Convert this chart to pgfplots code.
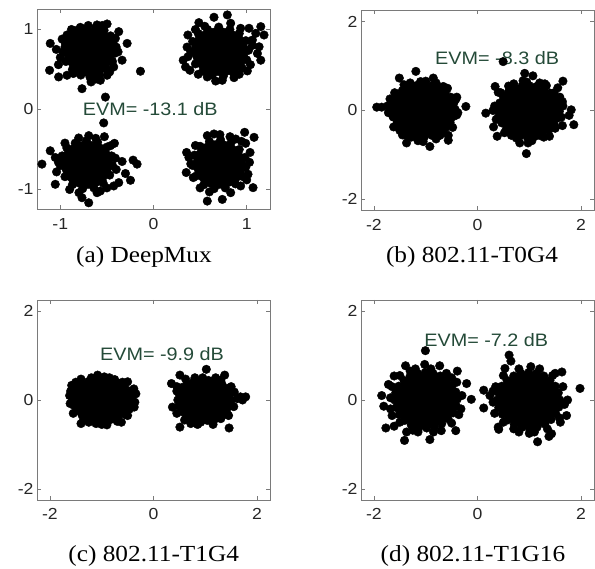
\documentclass[border=0pt]{standalone}
\usepackage{fontspec}
\setmainfont{Liberation Serif}[FakeStretch=1.1]
\newfontfamily\arialf{Liberation Sans}[FakeStretch=1.1]
\usepackage{pgfplots}
\pgfplotsset{compat=1.18}
\definecolor{evm}{HTML}{244A38}
\definecolor{axgray}{HTML}{7A7A7A}
\definecolor{tickc}{HTML}{262626}
\newcommand{\tickf}{\arialf\fontsize{16}{16}\selectfont}
\newcommand{\evmf}{\arialf\fontsize{18}{18}\selectfont}
\newcommand{\capf}{\fontsize{23}{23}\selectfont}
\pgfplotsset{
  cstyle/.style={
    scale only axis, width=233pt, height=200pt,
    axis line style={draw=axgray, line width=0.8pt},
    tick style={color=axgray, line width=0.7pt},
    tick align=inside, major tick length=4pt,
    xtick pos=both, ytick pos=both,
    xticklabel pos=lower, yticklabel pos=left,
    ticklabel style={font=\tickf, text=tickc},
    xticklabel style={yshift=-5pt},
    clip=false,
  },
  dots/.style={only marks, mark=*, mark size=4.3pt, draw=black, fill=black, mark options={draw=black, fill=black}},
  core/.style={fill=black, draw=black, line width=0.5pt, mark=none},
}
\begin{document}
\begin{tikzpicture}[x=1pt,y=1pt]
\useasboundingbox (0,0) rectangle (595,569);
% ---------------- (a) ----------------
\begin{axis}[cstyle, at={(37pt,359.5pt)}, anchor=south west,
  xmin=-1.25, xmax=1.25, ymin=-1.25, ymax=1.25,
  xtick={-1,0,1}, xticklabels={-1,0,1}, ytick={-1,0,1}, yticklabels={-1,0,1}]
\addplot[core] coordinates {(-0.97,0.72) (-0.95,0.84) (-0.9,0.93) (-0.82,0.99) (-0.72,1.01) (-0.62,1.02) (-0.53,0.99) (-0.46,0.92) (-0.43,0.82) (-0.42,0.7) (-0.44,0.6) (-0.5,0.5) (-0.58,0.43) (-0.68,0.40) (-0.78,0.43) (-0.87,0.5) (-0.94,0.6)} -- cycle;
\addplot[core] coordinates {(0.40,0.72) (0.42,0.85) (0.48,0.95) (0.58,1.0) (0.7,1.03) (0.82,1.0) (0.92,0.95) (0.99,0.86) (1.02,0.74) (1.0,0.62) (0.95,0.52) (0.86,0.45) (0.75,0.42) (0.63,0.43) (0.53,0.48) (0.45,0.57)} -- cycle;
\addplot[core] coordinates {(-1.0,-0.7) (-0.98,-0.58) (-0.93,-0.48) (-0.84,-0.42) (-0.72,-0.39) (-0.6,-0.41) (-0.5,-0.47) (-0.45,-0.58) (-0.44,-0.7) (-0.47,-0.82) (-0.54,-0.92) (-0.64,-0.98) (-0.76,-0.99) (-0.87,-0.94) (-0.95,-0.84)} -- cycle;
\addplot[core] coordinates {(0.42,-0.7) (0.44,-0.57) (0.5,-0.46) (0.6,-0.40) (0.72,-0.38) (0.83,-0.42) (0.92,-0.5) (0.98,-0.6) (0.99,-0.72) (0.96,-0.84) (0.88,-0.93) (0.77,-0.98) (0.65,-0.99) (0.54,-0.94) (0.46,-0.83)} -- cycle;
\addplot[dots] coordinates {
(-0.97,0.72) (-0.95,0.84) (-0.9,0.93) (-0.82,0.99) (-0.72,1.01) (-0.62,1.02) (-0.53,0.99) (-0.46,0.92) (-0.43,0.82) (-0.42,0.7) (-0.44,0.6) (-0.5,0.5) (-0.58,0.43) (-0.68,0.40) (-0.78,0.43) (-0.87,0.5) (-0.94,0.6)
(-1.108,0.826) (-1.043,0.751) (-1.115,0.49) (-1.018,0.407) (-0.928,0.428) (-0.767,0.26) (-0.67,0.344) (-0.57,0.365) (-0.498,0.428) (-0.14,0.478) (-0.283,0.826) (-0.373,0.973) (-0.498,1.069) (-0.409,0.889) (-0.337,0.616) (-0.427,0.532) (-0.516,0.155) (-0.785,1.027) (-0.606,1.057) (-0.928,0.931) (-1.0,0.65) (-0.98,0.88) (-0.38,0.72) (-0.86,0.45) (-0.55,1.05) (-0.7,1.05)
(-1.02,0.56) (-0.88,1.0) (-0.4,0.78) (-0.47,0.47) (-0.62,0.38) (-0.95,0.78)
(0.40,0.72) (0.42,0.85) (0.48,0.95) (0.58,1.0) (0.7,1.03) (0.82,1.0) (0.92,0.95) (0.99,0.86) (1.02,0.74) (1.0,0.62) (0.95,0.52) (0.86,0.45) (0.75,0.42) (0.63,0.43) (0.53,0.48) (0.45,0.57)
(0.487,1.086) (0.649,1.153) (0.792,1.182) (0.828,1.078) (0.935,1.015) (1.025,1.015) (1.151,1.036) (1.186,0.931) (1.097,0.952) (1.061,0.868) (1.133,0.784) (1.151,0.616) (1.115,0.70) (0.319,0.616) (0.344,0.532) (0.391,0.49) (0.577,0.407) (0.667,0.356) (0.738,0.365) (0.864,0.398) (1.007,0.482) (0.369,0.931) (0.36,0.78) (0.55,1.04) (1.04,0.56)
(0.37,0.66) (0.45,1.0) (1.06,0.8) (0.92,0.44) (0.48,0.44)
(-1.0,-0.7) (-0.98,-0.58) (-0.93,-0.48) (-0.84,-0.42) (-0.72,-0.39) (-0.6,-0.41) (-0.5,-0.47) (-0.45,-0.58) (-0.44,-0.7) (-0.47,-0.82) (-0.54,-0.92) (-0.64,-0.98) (-0.76,-0.99) (-0.87,-0.94) (-0.95,-0.84)
(-1.197,-0.683) (-1.108,-0.516) (-1.054,-0.60) (-1.054,-0.935) (-0.767,-1.103) (-0.695,-1.166) (-0.606,-1.04) (-0.57,-1.019) (-0.427,-0.956) (-0.373,-0.914) (-0.301,-0.80) (-0.247,-0.885) (-0.409,-0.608) (-0.337,-0.65) (-0.219,-0.633) (-0.176,-0.683) (-0.462,-0.453) (-0.419,-0.423) (-0.527,-0.34) (-0.803,-0.356) (-0.695,-0.327) (-0.534,-0.168) (-1.04,-0.78) (-0.9,-1.0) (-0.4,-0.75) (-0.95,-0.42)
(-1.02,-0.66) (-0.8,-1.04) (-0.5,-0.98) (-0.62,-0.36)
(0.42,-0.7) (0.44,-0.57) (0.5,-0.46) (0.6,-0.40) (0.72,-0.38) (0.83,-0.42) (0.92,-0.5) (0.98,-0.6) (0.99,-0.72) (0.96,-0.84) (0.88,-0.93) (0.77,-0.98) (0.65,-0.99) (0.54,-0.94) (0.46,-0.83)
(0.577,-0.327) (0.649,-0.306) (0.713,-0.314) (0.821,-0.34) (0.882,-0.369) (0.943,-0.398) (0.989,-0.423) (0.978,-0.285) (1.079,-0.348) (1.036,-0.537) (1.014,-0.809) (1.068,-0.977) (0.355,-0.537) (0.38,-0.60) (0.351,-0.788) (0.427,-0.851) (0.577,-1.145) (0.738,-1.124) (0.828,-1.04) (0.935,-0.956) (1.03,-0.66) (0.4,-0.68) (0.6,-1.03)
(0.5,-0.98) (1.0,-0.88) (0.45,-0.45)
};
\node[anchor=west, inner sep=0pt, text=evm, font=\evmf] at (axis cs:-0.76,0) {EVM= -13.1 dB};
\end{axis}
% ---------------- (b) ----------------
\begin{axis}[cstyle, at={(361pt,358.5pt)}, anchor=south west,
  xmin=-2.25, xmax=2.25, ymin=-2.25, ymax=2.25,
  xtick={-2,0,2}, xticklabels={-2,0,2}, ytick={-2,0,2}, yticklabels={-2,0,2}]
\addplot[core] coordinates {(-1.67,0.05) (-1.64,0.2) (-1.56,0.34) (-1.45,0.45) (-1.32,0.52) (-1.18,0.56) (-1.03,0.58) (-0.88,0.56) (-0.74,0.5) (-0.62,0.42) (-0.52,0.3) (-0.46,0.16) (-0.43,0.02) (-0.46,-0.13) (-0.53,-0.27) (-0.62,-0.39) (-0.74,-0.49) (-0.88,-0.56) (-1.03,-0.6) (-1.18,-0.58) (-1.32,-0.52) (-1.45,-0.43) (-1.56,-0.31) (-1.63,-0.14)} -- cycle;
\addplot[core] coordinates {(0.40,0.02) (0.43,0.17) (0.5,0.31) (0.6,0.42) (0.72,0.5) (0.86,0.55) (1.0,0.56) (1.14,0.54) (1.28,0.48) (1.4,0.39) (1.5,0.27) (1.56,0.13) (1.58,-0.02) (1.55,-0.17) (1.48,-0.31) (1.38,-0.43) (1.25,-0.52) (1.11,-0.58) (0.96,-0.6) (0.82,-0.57) (0.68,-0.5) (0.56,-0.41) (0.47,-0.28) (0.41,-0.13)} -- cycle;
\addplot[dots] coordinates {
(-1.67,0.05) (-1.64,0.2) (-1.56,0.34) (-1.45,0.45) (-1.32,0.52) (-1.18,0.56) (-1.03,0.58) (-0.88,0.56) (-0.74,0.5) (-0.62,0.42) (-0.52,0.3) (-0.46,0.16) (-0.43,0.02) (-0.46,-0.13) (-0.53,-0.27) (-0.62,-0.39) (-0.74,-0.49) (-0.88,-0.56) (-1.03,-0.6) (-1.18,-0.58) (-1.32,-0.52) (-1.45,-0.43) (-1.56,-0.31) (-1.63,-0.14)
(-1.946,0.075) (-1.85,0.075) (-1.69,0.26) (-1.51,0.73) (-1.19,0.88) (-0.854,0.73) (-0.66,0.54) (-1.62,-0.15) (-1.62,-0.37) (-1.38,-0.56) (-1.37,-0.73) (-0.92,-0.81) (-0.726,-0.56) (-0.565,-0.56) (-0.565,-0.67) (-0.225,0.09) (-0.40,0.30) (-0.469,0.075) (-0.53,-0.22) (-1.74,0.1) (-1.3,0.62) (-1.0,0.66) (-0.8,-0.64) (-1.15,-0.68) (-1.5,-0.45) (-0.4,-0.1)
(-1.72,-0.05) (-1.6,0.4) (-1.42,0.58) (-1.1,0.65) (-0.8,0.62) (-0.58,0.5) (-0.42,0.25) (-0.38,-0.05) (-0.48,-0.38) (-0.66,-0.5) (-1.05,-0.7) (-1.28,-0.6) (-1.55,-0.22) (-1.45,-0.55)
(0.40,0.02) (0.43,0.17) (0.5,0.31) (0.6,0.42) (0.72,0.5) (0.86,0.55) (1.0,0.56) (1.14,0.54) (1.28,0.48) (1.4,0.39) (1.5,0.27) (1.56,0.13) (1.58,-0.02) (1.55,-0.17) (1.48,-0.31) (1.38,-0.43) (1.25,-0.52) (1.11,-0.58) (0.96,-0.6) (0.82,-0.57) (0.68,-0.5) (0.56,-0.41) (0.47,-0.28) (0.41,-0.13)
(0.16,-0.06) (0.30,0.0) (0.34,0.54) (0.40,0.41) (0.38,-0.58) (0.31,-0.37) (0.495,1.10) (0.912,0.836) (1.07,0.78) (0.88,0.67) (1.33,0.56) (1.65,0.66) (1.55,0.51) (1.59,0.30) (1.81,0.015) (1.77,-0.11) (1.86,-0.32) (1.64,-0.34) (1.39,-0.58) (0.944,-0.97) (1.2,-0.56) (0.655,-0.56) (0.816,-0.73) (0.976,-0.73) (1.65,0.1) (0.6,0.55) (1.2,0.62)
(0.33,0.1) (0.45,0.4) (0.7,0.6) (0.95,0.64) (1.3,0.6) (1.48,0.4) (1.64,0.2) (1.62,-0.15) (1.5,-0.4) (1.28,-0.6) (1.05,-0.68) (0.75,-0.62) (0.52,-0.5) (0.36,-0.2)
};
\node[anchor=west, inner sep=0pt, text=evm, font=\evmf] at (axis cs:-0.82,1.19) {EVM= -8.3 dB};
\end{axis}
% ---------------- (c) ----------------
\begin{axis}[cstyle, at={(37pt,69pt)}, anchor=south west,
  xmin=-2.25, xmax=2.25, ymin=-2.25, ymax=2.25,
  xtick={-2,0,2}, xticklabels={-2,0,2}, ytick={-2,0,2}, yticklabels={-2,0,2}]
\addplot[core] coordinates {(-1.56,0.02) (-1.54,0.16) (-1.48,0.28) (-1.38,0.37) (-1.25,0.42) (-1.11,0.44) (-0.97,0.44) (-0.83,0.42) (-0.69,0.38) (-0.56,0.3) (-0.46,0.2) (-0.41,0.07) (-0.42,-0.08) (-0.47,-0.21) (-0.56,-0.32) (-0.69,-0.4) (-0.83,-0.44) (-0.97,-0.45) (-1.11,-0.44) (-1.25,-0.41) (-1.38,-0.34) (-1.48,-0.24) (-1.54,-0.12)} -- cycle;
\addplot[core] coordinates {(0.47,0.0) (0.49,0.15) (0.55,0.28) (0.65,0.37) (0.78,0.42) (0.92,0.44) (1.06,0.44) (1.2,0.42) (1.32,0.36) (1.42,0.26) (1.47,0.13) (1.5,0.0) (1.47,-0.14) (1.41,-0.27) (1.31,-0.37) (1.18,-0.43) (1.04,-0.46) (0.9,-0.46) (0.76,-0.43) (0.64,-0.36) (0.55,-0.26) (0.49,-0.13)} -- cycle;
\addplot[dots] coordinates {
(-1.56,0.02) (-1.54,0.16) (-1.48,0.28) (-1.38,0.37) (-1.25,0.42) (-1.11,0.44) (-0.97,0.44) (-0.83,0.42) (-0.69,0.38) (-0.56,0.3) (-0.46,0.2) (-0.41,0.07) (-0.42,-0.08) (-0.47,-0.21) (-0.56,-0.32) (-0.69,-0.4) (-0.83,-0.44) (-0.97,-0.45) (-1.11,-0.44) (-1.25,-0.41) (-1.38,-0.34) (-1.48,-0.24) (-1.54,-0.12)
(-1.40,-0.53) (-1.11,-0.53) (-0.90,-0.56) (-0.373,-0.16) (-0.34,0.14) (-1.08,0.56) (-0.95,0.52) (-1.4,0.47) (-1.58,0.33) (-1.61,-0.08) (-0.5,0.41) (-1.25,-0.5) (-0.7,-0.48) (-0.75,0.46) (-1.6,0.2)
(-1.62,0.1) (-1.5,0.4) (-1.2,0.5) (-0.85,0.5) (-0.6,0.4) (-0.38,0.25) (-0.36,-0.05) (-0.5,-0.35) (-0.62,-0.5) (-1.0,-0.55) (-1.35,-0.45) (-1.55,-0.3)
(0.47,0.0) (0.49,0.15) (0.55,0.28) (0.65,0.37) (0.78,0.42) (0.92,0.44) (1.06,0.44) (1.2,0.42) (1.32,0.36) (1.42,0.26) (1.47,0.13) (1.5,0.0) (1.47,-0.14) (1.41,-0.27) (1.31,-0.37) (1.18,-0.43) (1.04,-0.46) (0.9,-0.46) (0.76,-0.43) (0.64,-0.36) (0.55,-0.26) (0.49,-0.13)
(0.347,0.37) (0.51,0.56) (0.366,-0.16) (0.51,-0.61) (1.02,0.69) (1.375,0.56) (1.46,-0.63) (1.3,-0.42) (1.68,0.07) (1.78,0.07) (1.56,0.18) (1.62,0.03) (0.91,-0.5) (0.72,-0.53) (0.8,0.5) (1.2,0.5) (0.45,0.2)
(0.45,0.3) (0.62,0.47) (0.95,0.5) (1.3,0.45) (1.5,0.3) (1.55,-0.15) (1.45,-0.35) (1.15,-0.55) (0.85,-0.55) (0.6,-0.45) (0.45,-0.3) (1.72,0.0)
};
\node[anchor=west, inner sep=0pt, text=evm, font=\evmf] at (axis cs:-1.035,1.04) {EVM= -9.9 dB};
\end{axis}
% ---------------- (d) ----------------
\begin{axis}[cstyle, at={(361pt,69pt)}, anchor=south west,
  xmin=-2.25, xmax=2.25, ymin=-2.25, ymax=2.25,
  xtick={-2,0,2}, xticklabels={-2,0,2}, ytick={-2,0,2}, yticklabels={-2,0,2}]
\addplot[core] coordinates {(-1.6,0.0) (-1.58,0.16) (-1.52,0.31) (-1.42,0.44) (-1.3,0.54) (-1.16,0.6) (-1.01,0.62) (-0.86,0.6) (-0.72,0.54) (-0.6,0.45) (-0.49,0.33) (-0.42,0.18) (-0.39,0.02) (-0.41,-0.14) (-0.47,-0.29) (-0.57,-0.42) (-0.69,-0.53) (-0.83,-0.6) (-0.98,-0.63) (-1.13,-0.62) (-1.28,-0.56) (-1.41,-0.46) (-1.51,-0.33) (-1.57,-0.17)} -- cycle;
\addplot[core] coordinates {(0.38,0.0) (0.41,0.16) (0.47,0.31) (0.57,0.44) (0.7,0.54) (0.84,0.6) (0.99,0.62) (1.14,0.6) (1.28,0.54) (1.4,0.44) (1.5,0.31) (1.56,0.16) (1.59,0.0) (1.57,-0.16) (1.51,-0.31) (1.42,-0.44) (1.3,-0.54) (1.15,-0.61) (1.0,-0.64) (0.85,-0.62) (0.71,-0.55) (0.58,-0.45) (0.48,-0.32) (0.41,-0.17)} -- cycle;
\addplot[dots] coordinates {
(-1.6,0.0) (-1.58,0.16) (-1.52,0.31) (-1.42,0.44) (-1.3,0.54) (-1.16,0.6) (-1.01,0.62) (-0.86,0.6) (-0.72,0.54) (-0.6,0.45) (-0.49,0.33) (-0.42,0.18) (-0.39,0.02) (-0.41,-0.14) (-0.47,-0.29) (-0.57,-0.42) (-0.69,-0.53) (-0.83,-0.6) (-0.98,-0.63) (-1.13,-0.62) (-1.28,-0.56) (-1.41,-0.46) (-1.51,-0.33) (-1.57,-0.17)
(-1.85,0.1) (-1.81,-0.14) (-1.77,-0.63) (-1.61,-0.59) (-1.61,0.54) (-1.72,0.35) (-1.41,-0.91) (-1.37,-0.72) (-1.006,1.11) (-1.39,0.77) (-0.73,0.77) (-0.39,0.65) (-0.21,0.37) (-0.12,0.015) (-0.36,-0.33) (-0.42,-0.69) (-0.92,-0.89) (-0.70,-0.69) (-1.02,0.8) (-1.2,0.7) (-0.5,0.5) (-1.68,-0.2) (-1.15,-0.72)
(-1.68,0.05) (-1.65,0.3) (-1.5,0.55) (-1.3,0.65) (-0.9,0.7) (-0.6,0.6) (-0.4,0.4) (-0.3,0.1) (-0.32,-0.2) (-0.5,-0.52) (-0.85,-0.72) (-1.25,-0.68) (-1.5,-0.5) (-1.65,-0.35)
(0.38,0.0) (0.41,0.16) (0.47,0.31) (0.57,0.44) (0.7,0.54) (0.84,0.6) (0.99,0.62) (1.14,0.6) (1.28,0.54) (1.4,0.44) (1.5,0.31) (1.56,0.16) (1.59,0.0) (1.57,-0.16) (1.51,-0.31) (1.42,-0.44) (1.3,-0.54) (1.15,-0.61) (1.0,-0.64) (0.85,-0.62) (0.71,-0.55) (0.58,-0.45) (0.48,-0.32) (0.41,-0.17)
(0.61,1.01) (0.645,0.875) (0.12,0.22) (0.12,-0.18) (0.24,0.1) (0.4,-0.61) (0.41,-0.66) (1.16,-0.94) (1.38,-0.82) (1.43,-0.76) (1.72,-0.35) (1.74,0.0) (1.98,0.26) (1.50,0.6) (1.63,0.63) (1.03,0.75) (0.53,0.71) (0.8,-0.72) (1.0,-0.75) (0.3,0.2) (1.6,-0.5)
(0.3,-0.05) (0.35,0.3) (0.5,0.55) (0.8,0.7) (1.2,0.7) (1.45,0.55) (1.65,0.3) (1.68,-0.1) (1.58,-0.4) (1.35,-0.65) (1.1,-0.72) (0.7,-0.65) (0.5,-0.5) (0.33,-0.3)
};
\node[anchor=west, inner sep=0pt, text=evm, font=\evmf] at (axis cs:-1.03,1.35) {EVM= -7.2 dB};
\end{axis}
% ---------------- captions ----------------
\node[anchor=base, inner sep=0pt, font=\capf] at (144,306) {(a) DeepMux};
\node[anchor=base, inner sep=0pt, font=\capf] at (472,306) {(b) 802.11-T0G4};
\node[anchor=base, inner sep=0pt, font=\capf] at (153.7,7.3) {(c) 802.11-T1G4};
\node[anchor=base, inner sep=0pt, font=\capf] at (473,7.3) {(d) 802.11-T1G16};
\end{tikzpicture}
\end{document}
